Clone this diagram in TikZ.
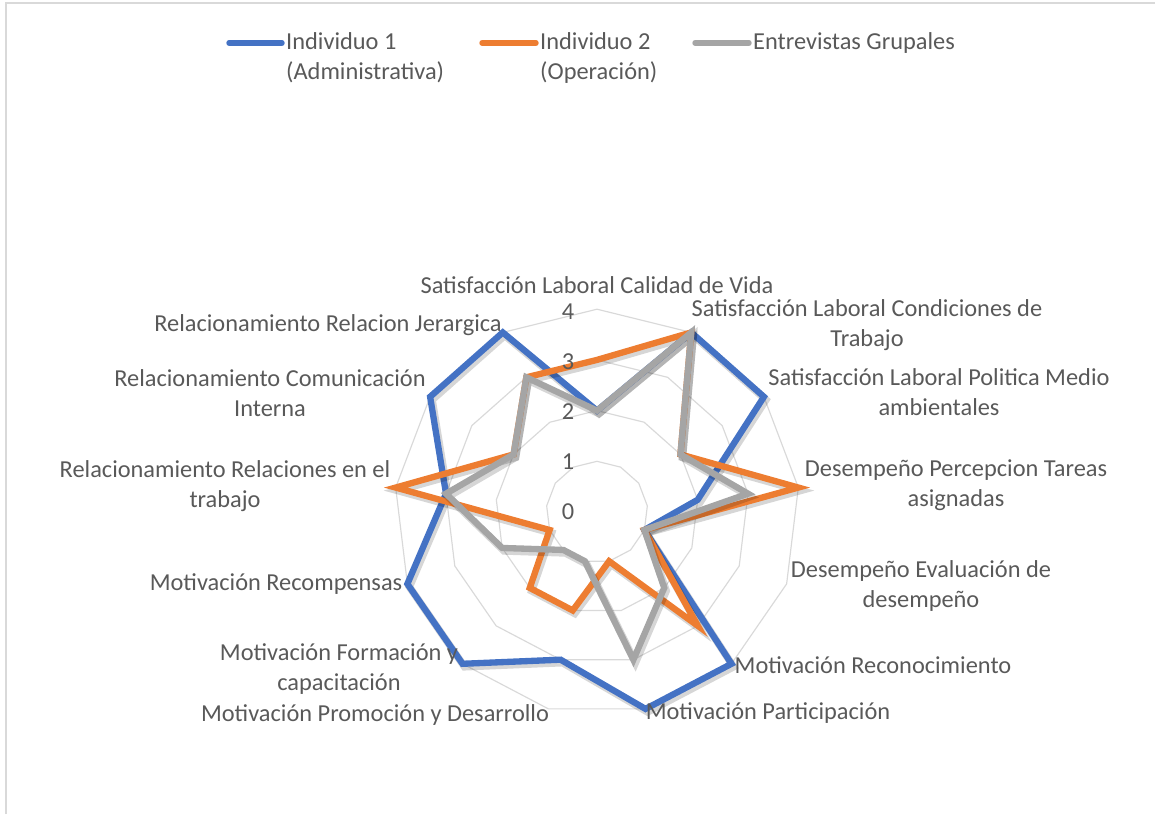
\documentclass[tikz,border=0pt]{standalone}
\usepackage{fontspec}
\setmainfont{Carlito}
\usetikzlibrary{positioning}
\definecolor{indA}{HTML}{4472C4}
\definecolor{indB}{HTML}{ED7D31}
\definecolor{grupo}{HTML}{A5A5A5}
\definecolor{rejilla}{HTML}{D9D9D9}
\definecolor{texto}{HTML}{595959}

\begin{document}
\begin{tikzpicture}[x=0.03cm, y=-0.03cm,
    rejilla/.style={draw=rejilla, line width=1pt},
    serie/.style={line width=5.4pt, line join=miter},
    sombra/.style={line width=6.4pt, line join=miter, draw=black, opacity=0.16,
      transform canvas={shift={(0.06cm,-0.09cm)}}},
    muestra/.style={line width=4.6pt, line cap=round},
    etiqueta/.style={text=texto, font=\fontsize{20.8}{25.5}\selectfont, align=center, inner sep=0pt},
    nivel/.style={text=texto, font=\fontsize{20.8}{22}\selectfont, inner sep=0pt}]
    \useasboundingbox (0,0) rectangle (1155,814);
    \draw[rejilla] (6,814) -- (6,3) -- (1155,3);

    \begin{scope}[shift={(597,512)}]
      \foreach \r in {1,...,4}
        \draw[rejilla] (-90:\r*50.7) \foreach \k in {1,...,12} { -- (\k*360/13-90:\r*50.7) } -- cycle;

      \foreach \v [count=\k from 0] in {2,4,4,2,1,4,4,3,4,4,3,4,4}
        \coordinate (a\k) at (\k*360/13-90:\v*50.7);
      \foreach \v [count=\k from 0] in {3,4,2,4,1,3,1,2,2,1,4,2,3}
        \coordinate (b\k) at (\k*360/13-90:\v*50.7);
      \foreach \v [count=\k from 0] in {2,4,2,3,1,2,3,1,1,2,3,2,3}
        \coordinate (c\k) at (\k*360/13-90:\v*50.7);
    \end{scope}

    \draw[sombra] (a0) -- (a1) -- (a2) -- (a3) -- (a4) -- (a5) -- (a6) -- (a7) -- (a8) -- (a9) -- (a10) -- (a11) -- (a12) -- cycle;
    \draw[serie, indA] (a0) -- (a1) -- (a2) -- (a3) -- (a4) -- (a5) -- (a6) -- (a7) -- (a8) -- (a9) -- (a10) -- (a11) -- (a12) -- cycle;
    \draw[sombra] (b0) -- (b1) -- (b2) -- (b3) -- (b4) -- (b5) -- (b6) -- (b7) -- (b8) -- (b9) -- (b10) -- (b11) -- (b12) -- cycle;
    \draw[serie, indB] (b0) -- (b1) -- (b2) -- (b3) -- (b4) -- (b5) -- (b6) -- (b7) -- (b8) -- (b9) -- (b10) -- (b11) -- (b12) -- cycle;
    \draw[sombra] (c0) -- (c1) -- (c2) -- (c3) -- (c4) -- (c5) -- (c6) -- (c7) -- (c8) -- (c9) -- (c10) -- (c11) -- (c12) -- cycle;
    \draw[serie, grupo] (c0) -- (c1) -- (c2) -- (c3) -- (c4) -- (c5) -- (c6) -- (c7) -- (c8) -- (c9) -- (c10) -- (c11) -- (c12) -- cycle;

    \node[nivel] (n4) at (568,312) {4};
    \node[nivel] (n3) at (568,362) {3};
    \node[nivel] (n2) at (568,412) {2};
    \node[nivel] (n1) at (568,462) {1};
    \node[nivel] (n0) at (568,512) {0};

    \node[etiqueta] (cal) at (597,285) {Satisfacción Laboral Calidad de Vida};
    \node[etiqueta] (cond) at (867,325) {Satisfacción Laboral Condiciones de\\Trabajo};
    \node[etiqueta] (pol) at (939,392) {Satisfacción Laboral Politica Medio\\ambientales};
    \node[etiqueta] (tar) at (956,485) {Desempeño Percepcion Tareas\\asignadas};
    \node[etiqueta] (eva) at (921,586) {Desempeño Evaluación de\\desempeño};
    \node[etiqueta] (rec) at (873,665) {Motivación Reconocimiento};
    \node[etiqueta] (par) at (768,713) {Motivación Participación};
    \node[etiqueta] (pro) at (375,715) {Motivación Promoción y Desarrollo};
    \node[etiqueta] (for) at (339,669) {Motivación Formación y\\capacitación};
    \node[etiqueta] (rcp) at (276,584) {Motivación Recompensas};
    \node[etiqueta] (rel) at (225,486) {Relacionamiento Relaciones en el\\trabajo};
    \node[etiqueta] (com) at (270,393) {Relacionamiento Comunicación\\Interna};
    \node[etiqueta] (jer) at (328,325) {Relacionamiento Relacion Jerargica};

    \draw[muestra, indA] (229,43) -- (282,43);
    \node[etiqueta, anchor=west, align=left] (leyA) at (286,58) {Individuo 1\\(Administrativa)};
    \draw[muestra, indB] (482,43) -- (536,43);
    \node[etiqueta, anchor=west, align=left] (leyB) at (540,58) {Individuo 2\\(Operación)};
    \draw[muestra, grupo] (695,43) -- (749,43);
    \node[etiqueta, anchor=west] (leyC) at (753,43) {Entrevistas Grupales};
\end{tikzpicture}
\end{document}
